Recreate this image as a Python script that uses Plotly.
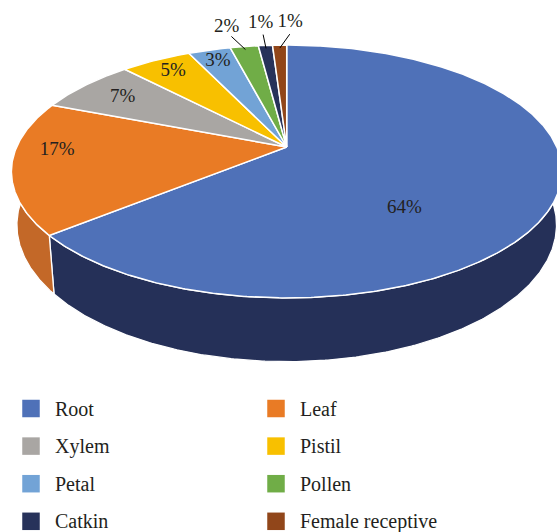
import math
import plotly.graph_objects as go

# ---------------- data ----------------
categories = ["Root", "Leaf", "Xylem", "Pistil", "Petal", "Pollen", "Catkin", "Female receptive"]
values = [64, 17, 7, 5, 3, 2, 1, 1]

# ---------------- style ----------------
top_colors = ["#4F71B8", "#E97B25", "#A9A6A3", "#F8C000", "#72A3D6", "#70AD47", "#27325A", "#91461A"]
wall_colors = ["#253058", "#C36828", "#7E7B79", "#B98F00", "#557BA1", "#548235", "#1C2542", "#6C3413"]
# label placement (radius in disc units, angular shift in degrees)
label_radius = [0.605, 0.846, 0.798, 0.85, 0.87, 1.249, 1.275, 1.275]
label_shift = [23.8, 7.3, 0.0, 0.0, 0.0, -1.9, 0.0, 2.5]
leader = [False, False, False, False, False, True, True, True]
FONT = "Liberation Serif"
TXT = "#231F20"

W, Hpx = 557, 532
# projection of the tilted disc (screen pixels)
CX, CY = 286.7, 147.0
A, B = 270.1, 121.7
K = 0.1936      # perspective factor
DEPTH = 51.4    # thickness
Q = 0.98        # bottom disc shrink


def proj(r, phi_deg, z=0.0):
    p = math.radians(phi_deg)
    u = r * math.sin(p)
    v = -r * math.cos(p)
    s = 1.0 / (1.0 - K * v)
    x = CX + A * u * s
    y = CY + B * v * s
    if z:
        x = CX + (x - CX) * (1 - (1 - Q) * z)
        y = y + DEPTH * s * z
    return x, y


def arc(r, a0, a1, z=0.0, step=0.5):
    n = max(2, int(abs(a1 - a0) / step) + 1)
    pts = [proj(r, a0 + (a1 - a0) * i / (n - 1), z) for i in range(n)]
    return [p[0] for p in pts], [p[1] for p in pts]


total = sum(values)
bounds = []
acc = 0.0
for v in values:
    a0 = acc / total * 360.0
    acc += v
    a1 = acc / total * 360.0
    bounds.append((a0, a1))

fig = go.Figure()

# side walls (only the front part is visible)
for i, (a0, a1) in enumerate(bounds):
    lo, hi = max(a0, 60.0), min(a1, 300.0)
    if hi <= lo:
        continue
    tx, ty = arc(1.0, lo, hi)
    bx, by = arc(1.0, hi, lo, z=1.0)
    fig.add_trace(go.Scatter(
        x=tx + bx + [tx[0]], y=ty + by + [ty[0]], mode="lines", fill="toself",
        fillcolor=wall_colors[i], line=dict(color="white", width=1.3),
        hoverinfo="skip", showlegend=False))

# top faces
for i, (a0, a1) in enumerate(bounds):
    ax_, ay_ = arc(1.0, a0, a1)
    fig.add_trace(go.Scatter(
        x=[CX] + ax_ + [CX], y=[CY] + ay_ + [CY], mode="lines", fill="toself",
        fillcolor=top_colors[i], line=dict(color="white", width=1.5),
        hoverinfo="skip", showlegend=False, name=categories[i]))

# leader lines and labels
lx, ly, lt = [], [], []
for i, (a0, a1) in enumerate(bounds):
    mid = (a0 + a1) / 2
    ang = mid + label_shift[i]
    x, y = proj(label_radius[i], ang)
    lx.append(x)
    ly.append(y)
    lt.append(f"{round(values[i] / total * 100)}%")
    if leader[i]:
        x0, y0 = proj(1.13, ang)
        x1, y1 = proj(0.965, mid)
        fig.add_trace(go.Scatter(x=[x0, x1], y=[y0, y1], mode="lines",
                                 line=dict(color="#000000", width=1),
                                 hoverinfo="skip", showlegend=False))
fig.add_trace(go.Scatter(x=lx, y=ly, text=lt, mode="text",
                         textfont=dict(family=FONT, size=19, color=TXT),
                         textposition="middle center", hoverinfo="skip",
                         showlegend=False))

# legend (two columns)
leg_x0, leg_dx = 31.0, 245.0
leg_y0, leg_dy = 408.5, 37.6
mx, my = [], []
for i, name in enumerate(categories):
    col, row = i % 2, i // 2
    x = leg_x0 + col * leg_dx
    y = leg_y0 + row * leg_dy
    mx.append(x)
    my.append(y)
    fig.add_annotation(x=x + 21.5, y=y, xref="x", yref="y", text=name,
                       showarrow=False, xanchor="left", yanchor="middle",
                       font=dict(family=FONT, size=20, color=TXT))
fig.add_trace(go.Scatter(x=mx, y=my, mode="markers",
                         marker=dict(symbol="square", size=17.5, color=top_colors,
                                     line=dict(width=0)),
                         hoverinfo="skip", showlegend=False))

fig.update_layout(
    width=W, height=Hpx, margin=dict(l=0, r=0, t=0, b=0),
    paper_bgcolor="white", plot_bgcolor="white", showlegend=False,
    xaxis=dict(range=[0, W], visible=False, fixedrange=True),
    yaxis=dict(range=[Hpx, 0], visible=False, fixedrange=True),
)

fig.write_html(
    "out.html",
    config={"displayModeBar": False, "staticPlot": True},
    post_script="document.body.style.margin='0';document.body.style.overflow='hidden';",
)
